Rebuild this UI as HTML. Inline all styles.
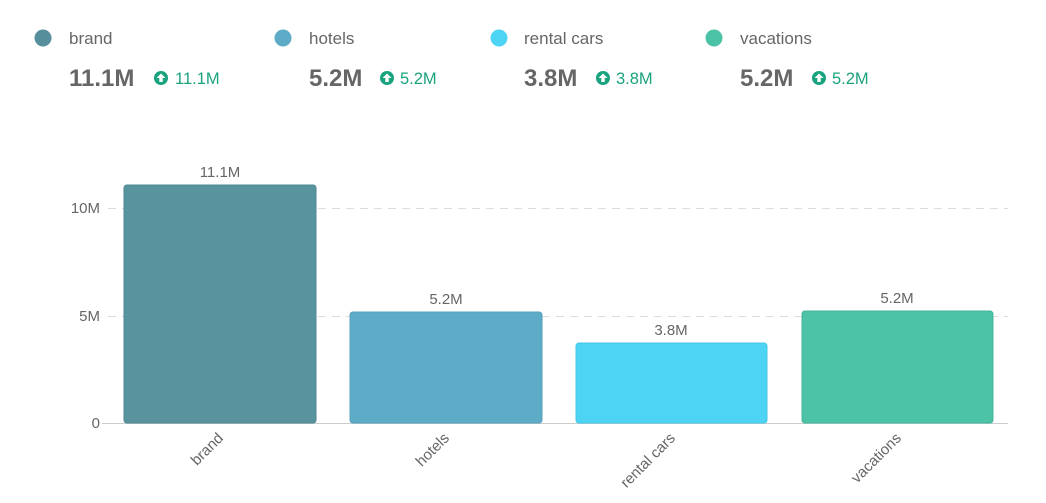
<!DOCTYPE html>
<html><head><style>
body{margin:0;background:#fff;font-family:"Liberation Sans",sans-serif;}
</style></head><body>
<svg width="1046" height="498" xmlns="http://www.w3.org/2000/svg" font-family="Liberation Sans, sans-serif">
<g>
<circle cx="43" cy="38" r="8.5" fill="#568f9b"/>
<text x="69" y="44" font-size="17" fill="#666">brand</text>
<text x="69" y="86" font-size="24" font-weight="bold" fill="#666">11.1M</text>
<circle cx="161" cy="78" r="7" fill="#1aa37e"/><path d="M161 73.5l-4.5 4.5h2.8v4h3.4v-4h2.8z" fill="#fff"/>
<text x="175" y="84" font-size="16.5" fill="#1aa37e">11.1M</text>

<circle cx="283" cy="38" r="8.5" fill="#5eabc7"/>
<text x="309" y="44" font-size="17" fill="#666">hotels</text>
<text x="309" y="86" font-size="24" font-weight="bold" fill="#666">5.2M</text>
<circle cx="387" cy="78" r="7" fill="#1aa37e"/><path d="M387 73.5l-4.5 4.5h2.8v4h3.4v-4h2.8z" fill="#fff"/>
<text x="400" y="84" font-size="16.5" fill="#1aa37e">5.2M</text>

<circle cx="499" cy="38" r="8.5" fill="#4dd4f5"/>
<text x="524" y="44" font-size="17" fill="#666">rental cars</text>
<text x="524" y="86" font-size="24" font-weight="bold" fill="#666">3.8M</text>
<circle cx="603" cy="78" r="7" fill="#1aa37e"/><path d="M603 73.5l-4.5 4.5h2.8v4h3.4v-4h2.8z" fill="#fff"/>
<text x="616" y="84" font-size="16.5" fill="#1aa37e">3.8M</text>

<circle cx="714" cy="38" r="8.5" fill="#4cc2a6"/>
<text x="740" y="44" font-size="17" fill="#666">vacations</text>
<text x="740" y="86" font-size="24" font-weight="bold" fill="#666">5.2M</text>
<circle cx="819" cy="78" r="7" fill="#1aa37e"/><path d="M819 73.5l-4.5 4.5h2.8v4h3.4v-4h2.8z" fill="#fff"/>
<text x="832" y="84" font-size="16.5" fill="#1aa37e">5.2M</text>
</g>
<g stroke="#ddd" stroke-width="1" stroke-dasharray="8,6">
<line x1="108" y1="208.5" x2="1008" y2="208.5"/>
<line x1="108" y1="316.5" x2="1008" y2="316.5"/>
</g>
<line x1="102" y1="423.5" x2="1008" y2="423.5" stroke="#ccc"/>
<g font-size="15" fill="#666" text-anchor="end">
<text x="100" y="213">10M</text>
<text x="100" y="321">5M</text>
<text x="100" y="428">0</text>
</g>
<rect x="124" y="185" width="192" height="238" rx="3" fill="#58939e" stroke="#4f8893"/>
<rect x="350" y="312" width="192" height="111" rx="3" fill="#5eabc7" stroke="#56a0bb"/>
<rect x="576" y="343" width="191" height="80" rx="3" fill="#4dd4f5" stroke="#45c6e6"/>
<rect x="802" y="311" width="191" height="112" rx="3" fill="#4cc2a6" stroke="#44b59a"/>
<g font-size="15" fill="#666" text-anchor="middle">
<text x="220" y="177">11.1M</text>
<text x="446" y="304">5.2M</text>
<text x="671" y="335">3.8M</text>
<text x="897" y="303">5.2M</text>
</g>
<g font-size="15" fill="#666" text-anchor="end">
<text transform="translate(224,439) rotate(-45)">brand</text>
<text transform="translate(450,439) rotate(-45)">hotels</text>
<text transform="translate(676,439) rotate(-45)">rental cars</text>
<text transform="translate(902,439) rotate(-45)">vacations</text>
</g>
</svg>
</body></html>
